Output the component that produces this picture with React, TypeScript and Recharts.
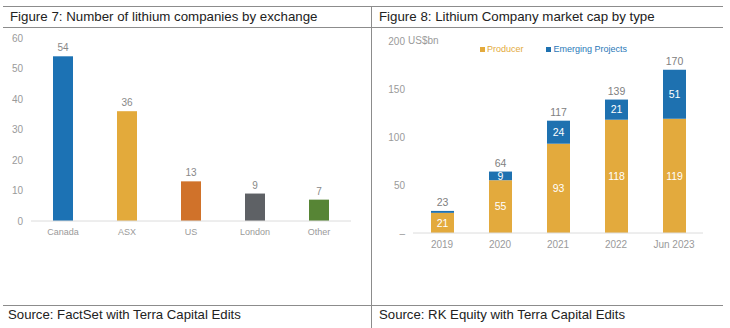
import { BarChart, Bar, XAxis, YAxis, LabelList } from 'recharts'

const exchanges = ['Canada', 'ASX', 'US', 'London', 'Other']
const companyCounts = [54, 36, 13, 9, 7]
const exchangeColors = ['#1c72b4', '#e3aa3b', '#d0722a', '#5e6165', '#578535']
const countTicks = [0, 10, 20, 30, 40, 50, 60]

const periods = ['2019', '2020', '2021', '2022', 'Jun 2023']
const producer = [21, 55, 93, 118, 119]
const emerging = [2, 9, 24, 21, 51]
const totals = [23, 64, 117, 139, 170]
const capTicks = [0, 50, 100, 150, 200]

const PRODUCER_COLOR = '#e3aa3d'
const EMERGING_COLOR = '#1e71b0'
const TICK = { fill: '#9a9a9a', fontSize: 10 }
const LINE = '#8c8c8c'
const FONT = '"Liberation Sans", Arial, sans-serif'

const exchangeData = exchanges.map((name, i) => ({
  name,
  count: companyCounts[i],
  color: exchangeColors[i],
}))

const capData = periods.map((period, i) => ({
  period,
  producer: producer[i],
  emerging: emerging[i],
  total: totals[i],
}))

function hline(top: number, left: number, width: number) {
  return <div style={{ position: 'absolute', top, left, width, height: 1, background: LINE }} />
}

export default function App() {
  return (
    <div
      style={{
        position: 'absolute',
        top: 0,
        left: 0,
        width: 730,
        height: 328,
        background: '#fff',
        fontFamily: FONT,
        overflow: 'hidden',
      }}
    >
      {hline(6, 3, 720)}
      {hline(27, 3, 720)}
      {hline(305, 3, 720)}
      <div style={{ position: 'absolute', top: 6, left: 371, width: 1, height: 322, background: LINE }} />

      <div style={{ position: 'absolute', top: 9, left: 10, fontSize: 13.3, color: '#222', whiteSpace: 'nowrap' }}>
        Figure 7: Number of lithium companies by exchange
      </div>
      <div style={{ position: 'absolute', top: 9, left: 379, fontSize: 13.3, color: '#222', whiteSpace: 'nowrap' }}>
        Figure 8: Lithium Company market cap by type
      </div>
      <div style={{ position: 'absolute', top: 307, left: 8, fontSize: 13.2, color: '#222', whiteSpace: 'nowrap' }}>
        Source: FactSet with Terra Capital Edits
      </div>
      <div style={{ position: 'absolute', top: 307, left: 379, fontSize: 13.2, color: '#222', whiteSpace: 'nowrap' }}>
        Source: RK Equity with Terra Capital Edits
      </div>

      <div style={{ position: 'absolute', top: 0, left: 0 }}>
        <BarChart width={370} height={250} data={exchangeData} margin={{ top: 38, right: 19, left: 0, bottom: 0 }}>
          <XAxis
            dataKey="name"
            height={29}
            axisLine={{ stroke: '#dcdcdc' }}
            tickLine={false}
            tick={{ ...TICK, fontSize: 9 }}
            interval={0}
          />
          <YAxis
            width={31}
            domain={[0, 60]}
            ticks={countTicks}
            axisLine={false}
            tickLine={false}
            tick={TICK}
          />
          <Bar dataKey="count" barSize={20} isAnimationActive={false} shape={(p: any) => (
            <rect x={p.x} y={p.y} width={p.width} height={p.height} fill={p.payload.color} />
          )}>
            <LabelList dataKey="count" position="top" fill="#888" fontSize={10} />
          </Bar>
        </BarChart>
      </div>

      <div style={{ position: 'absolute', top: 35, left: 408, fontSize: 10, color: '#9a9a9a' }}>US$bn</div>
      <div
        style={{
          position: 'absolute',
          top: 44,
          left: 480,
          fontSize: 9,
          display: 'flex',
          alignItems: 'center',
          whiteSpace: 'nowrap',
        }}
      >
        <span style={{ width: 5, height: 5, background: PRODUCER_COLOR, marginRight: 2 }} />
        <span style={{ color: PRODUCER_COLOR }}>Producer</span>
        <span style={{ width: 5, height: 5, background: EMERGING_COLOR, marginLeft: 22, marginRight: 3 }} />
        <span style={{ color: '#2a78b8' }}>Emerging Projects</span>
      </div>

      <div style={{ position: 'absolute', top: 0, left: 370 }}>
        <BarChart width={360} height={260} data={capData} margin={{ top: 41, right: 27, left: 0, bottom: 0 }}>
          <XAxis
            dataKey="period"
            height={27}
            axisLine={{ stroke: '#dcdcdc' }}
            tickLine={false}
            tick={TICK}
            interval={0}
          />
          <YAxis
            width={43}
            domain={[0, 200]}
            ticks={capTicks}
            axisLine={false}
            tickLine={false}
            tick={TICK}
            tickFormatter={(v: number) => (v === 0 ? '–' : String(v))}
          />
          <Bar dataKey="producer" stackId="a" fill={PRODUCER_COLOR} barSize={23} isAnimationActive={false}>
            <LabelList dataKey="producer" position="center" fill="#fff" fontSize={10.5} />
          </Bar>
          <Bar dataKey="emerging" stackId="a" fill={EMERGING_COLOR} barSize={23} isAnimationActive={false}>
            <LabelList
              dataKey="emerging"
              position="center"
              fill="#fff"
              fontSize={10.5}
              formatter={(v: any) => (Number(v) < 5 ? '' : v)}
            />
            <LabelList dataKey="total" position="top" fill="#808080" fontSize={10.5} />
          </Bar>
        </BarChart>
      </div>
    </div>
  )
}
